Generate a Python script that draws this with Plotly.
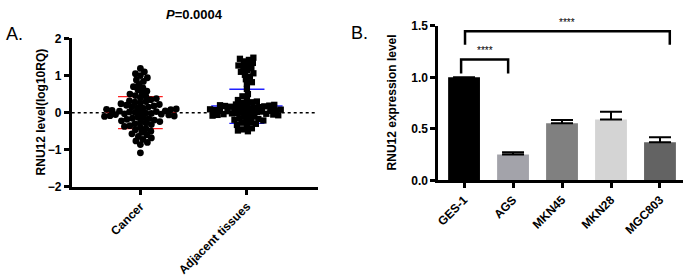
import plotly.graph_objects as go

# ---------------- data ----------------
groups_a = ["Cancer", "Adjacent tissues"]
cancer_values = [
    1.19, 1.10, 1.05, 1.00, 0.94, 0.88, 0.84, 0.76, 0.70, 0.67, 0.62, 0.58, 0.53, 0.50, 0.46, 0.44, 0.40, 0.38,
    0.35, 0.32, 0.30, 0.28, 0.26, 0.24,
    0.22, 0.20, 0.18, 0.16, 0.15, 0.13, 0.12, 0.10, 0.09, 0.08, 0.06, 0.05, 0.04, 0.03, 0.02, 0.01, 0.00, -0.01,
    -0.02, -0.03, -0.04, -0.05, -0.06, -0.08, -0.09, -0.10, -0.12, -0.13, -0.15, -0.16, -0.18, -0.20,
    -0.22, -0.24, -0.26, -0.28, -0.30, -0.32, -0.35, -0.37, -0.40, -0.43, -0.46, -0.50, -0.53, -0.57, -0.60,
    -0.64, -0.68, -0.72, -0.76, -0.80, -0.86, -1.08]
adjacent_values = [
    1.48, 1.45, 1.42, 1.38, 1.34, 1.30, 1.27, 1.24, 1.20, 1.15, 1.10, 1.06, 1.02, 0.97, 0.90, 0.82, 0.78, 0.64,
    0.50, 0.44, 0.38, 0.34,
    0.30, 0.28, 0.26, 0.24, 0.22, 0.21, 0.20, 0.19, 0.18, 0.17, 0.16, 0.15, 0.14, 0.13, 0.12, 0.11, 0.10, 0.09,
    0.08, 0.07, 0.06, 0.05, 0.05, 0.04, 0.03, 0.02, 0.01, 0.00, 0.00, -0.01, -0.02, -0.03, -0.04, -0.05, -0.06,
    -0.07, -0.08, -0.10, -0.11, -0.13, -0.15, -0.17, -0.19,
    -0.21, -0.23, -0.25, -0.27, -0.30, -0.33, -0.38, -0.42, -0.45, -0.48, -0.50]
group_means = [0.0, 0.18]
group_sd_upper = [0.43, 0.63]
group_sd_lower = [-0.43, -0.29]
p_text = "P=0.0004"
title_a = "RNU12 level(log10RQ)"

cell_lines = ["GES-1", "AGS", "MKN45", "MKN28", "MGC803"]
expr_values = [1.0, 0.25, 0.555, 0.59, 0.37]
expr_errors = [0.0, 0.022, 0.03, 0.075, 0.048]
bar_colors = ["#000000", "#A3A3AA", "#808080", "#D4D4D4", "#636363"]
title_b = "RNU12 expression level"
# brackets: (left index, right index, top height, leg bottom, label)
brackets = [(0, 1, 1.174, 1.037, "****"), (0, 4, 1.448, 1.317, "****")]

# ---------------- layout geometry ----------------
W, H = 685, 277
FONT = "Liberation Sans, Arial, sans-serif"

ax_l, ax_r, ay_t, ay_b = 69, 316, 33.3, 191
bx_l, bx_r, by_t, by_b = 437, 683, 20, 184
xa_range = [-0.645, 1.664]
ya_range = [-2, 2]
xb_range = [-0.53, 4.47]
yb_range = [0, 1.5]

px_per_y = (ay_b - ay_t) / (ya_range[1] - ya_range[0])
px_per_x = (ax_r - ax_l) / (xa_range[1] - xa_range[0])


def swarm(vals, diam):
    """beeswarm x-offsets (data units)"""
    order = sorted(range(len(vals)), key=lambda i: abs(vals[i]))
    placed = []
    offs = [0.0] * len(vals)
    for n, i in enumerate(order):
        yi = vals[i] * px_per_y
        found = None
        for k in range(0, 400):
            cands = [0] if k == 0 else ([k, -k] if n % 2 == 0 else [-k, k])
            for s in cands:
                x = s * 0.5
                ok = True
                for (qx, qy) in placed:
                    if abs(qy - yi) < diam and (qx - x) ** 2 + (qy - yi) ** 2 < diam ** 2:
                        ok = False
                        break
                if ok:
                    found = x
                    break
            if found is not None:
                break
        placed.append((found, yi))
        offs[i] = found / px_per_x
    return offs


fig = go.Figure()

c_off = swarm(cancer_values, 5.3)
a_off = swarm(adjacent_values, 4.8)
fig.add_trace(go.Scatter(
    x=[0 + o for o in c_off], y=cancer_values, mode="markers",
    marker=dict(symbol="circle", size=6.8, color="black"),
    xaxis="x", yaxis="y", showlegend=False, cliponaxis=False))
fig.add_trace(go.Scatter(
    x=[1 + o for o in a_off], y=adjacent_values, mode="markers",
    marker=dict(symbol="square", size=6.3, color="black"),
    xaxis="x", yaxis="y", showlegend=False, cliponaxis=False))

fig.add_trace(go.Bar(
    x=list(range(len(cell_lines))), y=expr_values,
    marker=dict(color=bar_colors, line=dict(width=0)),
    width=0.65,
    error_y=dict(type="data", symmetric=False, array=expr_errors,
                 arrayminus=[0] * len(expr_errors), color="black", thickness=2, width=11),
    xaxis="x2", yaxis="y2", showlegend=False))

shapes = []
shapes.append(dict(type="line", xref="x domain", yref="y", x0=0, x1=1, y0=0, y1=0,
                   line=dict(color="black", width=1.6, dash="dot"), layer="below"))
line_colors = ["#FF2020", "#2020FF"]
mean_half = [0.33, 0.335]
sd_half = [0.21, 0.165]
for g in range(2):
    col = line_colors[g]
    shapes.append(dict(type="line", xref="x", yref="y", x0=g - mean_half[g], x1=g + mean_half[g],
                       y0=group_means[g], y1=group_means[g], line=dict(color=col, width=1.3), layer="below"))
    for v in (group_sd_upper[g], group_sd_lower[g]):
        shapes.append(dict(type="line", xref="x", yref="y", x0=g - sd_half[g], x1=g + sd_half[g],
                           y0=v, y1=v, line=dict(color=col, width=1.3), layer="below"))
    shapes.append(dict(type="line", xref="x", yref="y", x0=g, x1=g,
                       y0=group_sd_lower[g], y1=group_sd_upper[g], line=dict(color=col, width=1.3), layer="below"))

annotations = []
for (l, r, top, leg, lab) in brackets:
    if r == 1:
        xl, xr = l - 0.06, r - 0.1
    else:
        xl, xr = l + 0.02, r + 0.2
    shapes.append(dict(type="path", xref="x2", yref="y2",
                       path=f"M {xl},{leg} L {xl},{top} L {xr},{top} L {xr},{leg}",
                       line=dict(color="black", width=2.5)))
    annotations.append(dict(x=(xl + xr) / 2, y=top + 0.015, xref="x2", yref="y2", text=lab,
                            showarrow=False, yanchor="bottom",
                            font=dict(family=FONT, size=10, color="#000000")))

title_font = dict(family=FONT, size=12, color="black", weight=700)
annotations += [
    dict(x=1 / W, y=1 - 28.5 / H, xref="paper", yref="paper", text="A.", showarrow=False,
         xanchor="left", yanchor="middle", font=dict(family=FONT, size=18, color="black")),
    dict(x=348 / W, y=1 - 28 / H, xref="paper", yref="paper", text="B.", showarrow=False,
         xanchor="left", yanchor="middle", font=dict(family=FONT, size=18, color="black")),
    dict(x=192 / W, y=1 - 7.5 / H, xref="paper", yref="paper",
         text="<i>" + p_text[0] + "</i>" + p_text[1:], showarrow=False,
         xanchor="center", yanchor="middle",
         font=dict(family=FONT, size=13, color="black", weight=700)),
    dict(x=38 / W, y=1 - 111 / H, xref="paper", yref="paper", text=title_a, textangle=-90,
         showarrow=False, xanchor="center", yanchor="middle", font=title_font),
    dict(x=391 / W, y=1 - 101 / H, xref="paper", yref="paper", text=title_b, textangle=-90,
         showarrow=False, xanchor="center", yanchor="middle", font=title_font),
]

axis_common = dict(showline=True, linecolor="black", linewidth=2.5, ticks="outside", ticklen=5,
                   tickwidth=2.5, tickcolor="black", showgrid=False, zeroline=False,
                   tickfont=dict(family=FONT, size=12, color="black", weight=700), fixedrange=True)

fig.update_layout(
    width=W, height=H, margin=dict(l=0, r=0, t=0, b=0),
    paper_bgcolor="white", plot_bgcolor="white",
    shapes=shapes, annotations=annotations,
    xaxis=dict(axis_common, domain=[ax_l / W, ax_r / W], range=xa_range, anchor="y",
               tickvals=[0, 1], ticktext=groups_a, tickangle=-45),
    yaxis=dict(axis_common, domain=[1 - ay_b / H, 1 - ay_t / H], range=ya_range, anchor="x",
               tickvals=[-2, -1, 0, 1, 2]),
    xaxis2=dict(axis_common, domain=[bx_l / W, bx_r / W], range=xb_range, anchor="y2",
                tickvals=list(range(len(cell_lines))), ticktext=cell_lines, tickangle=-45),
    yaxis2=dict(axis_common, domain=[1 - by_b / H, 1 - by_t / H], range=yb_range, anchor="x2",
                tickvals=[0, 0.5, 1.0, 1.5], ticktext=["0.0", "0.5", "1.0", "1.5"]),
)

fig.write_html("out.html", config={"displayModeBar": False},
               post_script="document.body.style.margin='0';document.body.style.overflow='hidden';")
